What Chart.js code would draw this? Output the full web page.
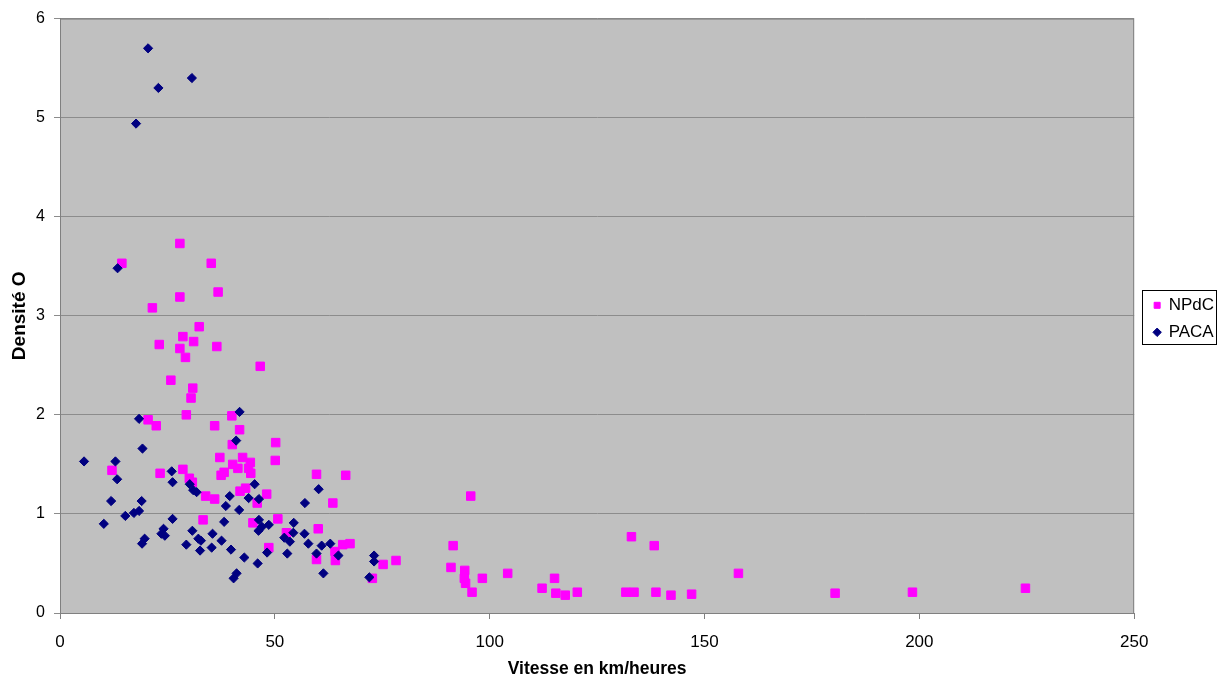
<!DOCTYPE html>
<html>
<head>
<meta charset="utf-8">
<script src="https://cdn.jsdelivr.net/npm/chart.js@4/dist/chart.umd.min.js"></script>
<style>
  body { margin: 0; background: #fff; }
  canvas { display: block; }
</style>
</head>
<body>
<canvas id="plotarea" width="1217" height="681"></canvas>
<script>
// series: x = vitesse (km/h), y = densité
const seriesNames = ['NPdC', 'PACA'];

const npdcX = [14.4, 27.9, 35.2, 36.8, 27.9, 21.5, 32.4, 28.6, 31.1, 23.1, 27.9, 36.5, 29.2, 46.6, 25.8,
  30.9, 30.5, 29.4, 40.0, 20.5, 22.4, 36.0, 41.8, 40.1, 50.2, 50.1, 37.2, 42.5, 44.3, 40.2,
  41.4, 43.9, 38.2, 37.5, 44.4, 12.1, 23.3, 28.6, 30.1, 30.8, 59.7, 43.2, 41.9, 33.9, 36.0,
  48.1, 45.9, 50.7, 33.3, 44.9, 52.7, 48.6, 60.1, 59.7, 66.5, 63.5, 65.8, 67.5, 64.0, 64.1,
  75.2, 78.2, 72.7, 95.6, 91.5, 91.0, 94.2, 94.1, 94.4, 95.9, 98.3, 104.2, 112.2, 115.1, 115.4,
  117.6, 120.4, 133.0, 138.3, 131.7, 133.6, 138.7, 142.2, 147.0, 157.9, 180.4, 198.4, 224.7];
const npdcY = [3.53, 3.73, 3.53, 3.24, 3.19, 3.08, 2.89, 2.79, 2.74, 2.71, 2.67, 2.69, 2.58, 2.49, 2.35,
  2.27, 2.17, 2.00, 1.99, 1.95, 1.89, 1.89, 1.85, 1.70, 1.72, 1.54, 1.57, 1.57, 1.52, 1.50,
  1.46, 1.46, 1.42, 1.39, 1.41, 1.44, 1.41, 1.45, 1.36, 1.32, 1.40, 1.26, 1.23, 1.18, 1.15,
  1.20, 1.11, 0.95, 0.94, 0.91, 0.81, 0.66, 0.85, 0.54, 1.39, 1.11, 0.69, 0.70, 0.62, 0.53,
  0.49, 0.53, 0.35, 1.18, 0.68, 0.46, 0.43, 0.35, 0.30, 0.21, 0.35, 0.40, 0.25, 0.35, 0.20,
  0.18, 0.21, 0.77, 0.68, 0.21, 0.21, 0.21, 0.18, 0.19, 0.40, 0.20, 0.21, 0.25];

const pacaX = [20.5, 30.7, 22.9, 17.7, 13.4, 41.8, 18.4, 19.2, 41.0, 5.6, 12.9, 13.3, 26.0, 26.2, 30.2,
  31.0, 31.8, 45.3, 39.5, 43.9, 46.3, 38.6, 41.7, 11.9, 19.0, 57.0, 60.2, 15.2, 17.2, 18.4,
  10.2, 26.2, 38.2, 46.3, 47.0, 48.6, 46.2, 54.4, 24.1, 23.6, 24.4, 30.8, 35.5, 54.3, 52.2,
  56.9, 19.7, 19.1, 29.4, 32.2, 32.8, 32.6, 35.3, 37.6, 39.8, 42.9, 46.0, 48.2, 52.9, 53.5,
  57.8, 59.7, 41.1, 40.4, 60.9, 62.9, 64.8, 61.3, 73.1, 73.1, 72.0];
const pacaY = [5.70, 5.40, 5.30, 4.94, 3.48, 2.03, 1.96, 1.66, 1.74, 1.53, 1.53, 1.35, 1.43, 1.32, 1.30,
  1.24, 1.22, 1.30, 1.18, 1.16, 1.15, 1.08, 1.04, 1.13, 1.13, 1.11, 1.25, 0.98, 1.01, 1.03,
  0.90, 0.95, 0.92, 0.94, 0.87, 0.89, 0.83, 0.91, 0.85, 0.80, 0.78, 0.83, 0.80, 0.81, 0.76,
  0.80, 0.75, 0.70, 0.69, 0.75, 0.73, 0.63, 0.66, 0.73, 0.64, 0.56, 0.50, 0.61, 0.60, 0.72,
  0.70, 0.60, 0.40, 0.35, 0.68, 0.70, 0.58, 0.40, 0.58, 0.52, 0.36];

const xTitle = 'Vitesse en km/heures';
const yTitle = 'Densité O';

function toPoints(xs, ys) {
  return xs.map((x, i) => ({ x: x, y: ys[i] }));
}

const FONT = 'Liberation Sans, Arial, sans-serif';

// grey plot background + frame, like the old Excel charts
const plotBackground = {
  id: 'plotBackground',
  beforeDraw(chart) {
    const a = chart.chartArea, ctx = chart.ctx;
    ctx.save();
    ctx.fillStyle = '#c0c0c0';
    ctx.fillRect(a.left, a.top, a.right - a.left, a.bottom - a.top);
    ctx.restore();
  },
  afterDatasetsDraw(chart) {
    const a = chart.chartArea, ctx = chart.ctx;
    ctx.save();
    ctx.strokeStyle = '#808080';
    ctx.lineWidth = 1;
    ctx.strokeRect(a.left + 0.5, a.top + 0.5, a.right - a.left - 1, a.bottom - a.top);
    ctx.restore();
  }
};

// move the legend a bit away from the plot and frame it
const legendBox = {
  id: 'legendBox',
  afterLayout(chart) {
    const lg = chart.legend;
    if (!lg) return;
    const dx = chart.chartArea.right + 10 - lg.left;
    lg.left += dx; lg.right += dx;
    lg.top += 3; lg.bottom += 3;
  },
  afterDraw(chart) {
    const boxes = chart.legend && chart.legend.legendHitBoxes;
    if (!boxes || !boxes.length) return;
    const l = Math.min(...boxes.map(b => b.left)) - 12;
    const r = Math.max(...boxes.map(b => b.left + b.width)) + 2;
    const t = Math.min(...boxes.map(b => b.top)) - 7;
    const btm = Math.max(...boxes.map(b => b.top + b.height)) + 3;
    const ctx = chart.ctx;
    ctx.save();
    ctx.strokeStyle = '#000';
    ctx.lineWidth = 1;
    ctx.strokeRect(Math.round(l) + 0.5, Math.round(t) + 0.5, Math.round(r - l), Math.round(btm - t));
    ctx.restore();
  }
};

const config = {
  type: 'scatter',
  data: {
    datasets: [
      {
        label: seriesNames[0],
        data: toPoints(npdcX, npdcY),
        pointStyle: 'rect',
        radius: 6,
        hoverRadius: 6,
        backgroundColor: '#ff00ff',
        borderColor: '#ff00ff',
        borderWidth: 1,
        order: 1
      },
      {
        label: seriesNames[1],
        data: toPoints(pacaX, pacaY),
        pointStyle: 'rectRot',
        radius: 4.6,
        hoverRadius: 4.6,
        backgroundColor: '#000080',
        borderColor: '#000080',
        borderWidth: 1,
        order: 0
      }
    ]
  },
  options: {
    responsive: false,
    animation: false,
    layout: { padding: { top: 17, right: 3, left: 0, bottom: 0 } },
    plugins: {
      tooltip: { enabled: false },
      legend: {
        position: 'right',
        fullSize: false,
        labels: {
          usePointStyle: true,
          boxWidth: 6,
          boxHeight: 6,
          padding: 10,
          color: '#000',
          font: { family: FONT, size: 17 },
          sort: (a, b) => a.datasetIndex - b.datasetIndex
        }
      }
    },
    scales: {
      x: {
        type: 'linear',
        min: 0,
        max: 250,
        afterFit: s => { s.height = 68; },
        ticks: { stepSize: 50, color: '#000', padding: 13, font: { family: FONT, size: 17 } },
        grid: { drawOnChartArea: false, drawTicks: true, tickLength: 6, color: '#808080' },
        border: { display: true, color: '#808080' },
        title: {
          display: true,
          text: xTitle,
          color: '#000',
          font: { family: FONT, size: 17.5, weight: 'bold' },
          padding: { top: 0, bottom: 1 }
        }
      },
      y: {
        type: 'linear',
        min: 0,
        max: 6,
        afterFit: s => { s.width = 60; },
        ticks: { stepSize: 1, color: '#000', padding: 9, font: { family: FONT, size: 16 } },
        grid: { drawOnChartArea: true, drawTicks: true, tickLength: 6, color: '#8c8c8c' },
        border: { display: true, color: '#808080' },
        title: {
          display: true,
          text: yTitle,
          color: '#000',
          font: { family: FONT, size: 19, weight: 'bold' },
          padding: { top: 8, bottom: 0 }
        }
      }
    }
  },
  plugins: [plotBackground, legendBox]
};

const myChart = new Chart(document.getElementById('plotarea'), config);
</script>
</body>
</html>
